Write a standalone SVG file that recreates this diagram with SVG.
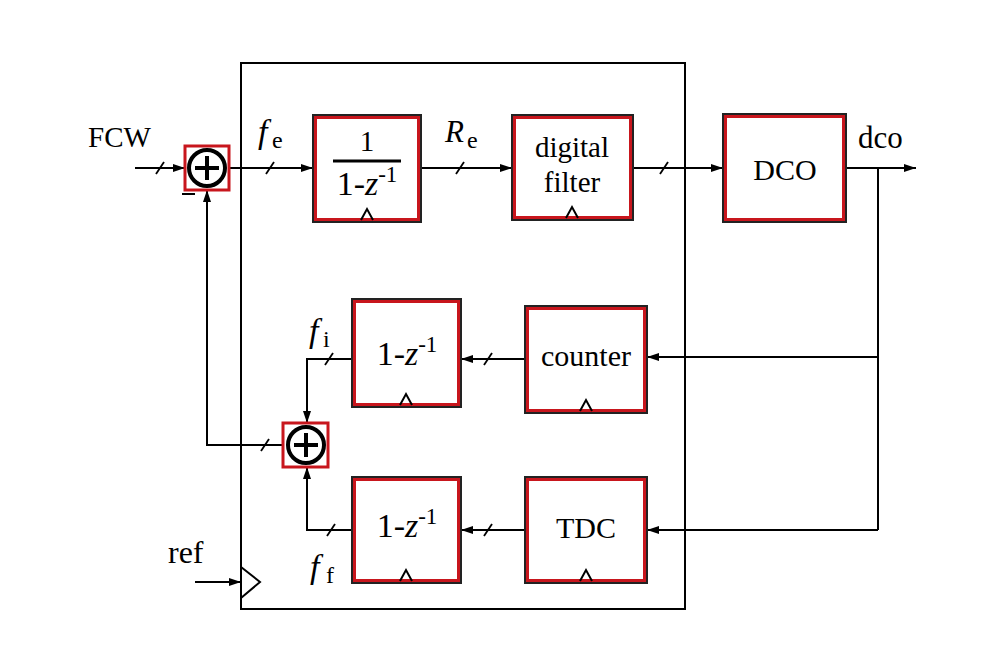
<svg xmlns="http://www.w3.org/2000/svg" width="988" height="662" viewBox="0 0 988 662">
<style>
text{font-family:"Liberation Serif","Times New Roman",Times,"DejaVu Serif",serif;fill:#000;}
.blk{fill:#fff;stroke:#222;stroke-width:2;}
.red{fill:none;stroke:#c8161d;stroke-width:3;}
.w{fill:none;stroke:#000;stroke-width:2;}
.sl{stroke:#000;stroke-width:1.8;}
.ck{fill:none;stroke:#000;stroke-width:2;}
</style>
<defs>
<marker id="ah" viewBox="0 0 12 8" refX="12" refY="4" markerWidth="12" markerHeight="8" markerUnits="userSpaceOnUse" orient="auto">
<path d="M0,0 L12,4 L0,8 Z" fill="#000"/>
</marker>
</defs>
<rect width="988" height="662" fill="#fff"/>

<!-- main clocked boundary -->
<g id="core">
<rect x="241" y="63" width="444" height="546" fill="none" stroke="#000" stroke-width="2"/>
<path d="M241,567 L260,582 L241,598" class="ck"/>
</g>

<!-- connectors -->
<g id="connectors">
<line x1="135" y1="168" x2="185" y2="168" class="w" marker-end="url(#ah)"/>
<line x1="229" y1="168" x2="313" y2="168" class="w" marker-end="url(#ah)"/>
<line x1="421" y1="168" x2="512" y2="168" class="w" marker-end="url(#ah)"/>
<line x1="633" y1="168" x2="723" y2="168" class="w" marker-end="url(#ah)"/>
<line x1="846" y1="168" x2="916" y2="168" class="w" marker-end="url(#ah)"/>
<path d="M878,168 V530" class="w"/>
<line x1="878" y1="357" x2="647" y2="357" class="w" marker-end="url(#ah)"/>
<line x1="878" y1="530" x2="647" y2="530" class="w" marker-end="url(#ah)"/>
<line x1="525" y1="359" x2="461" y2="359" class="w" marker-end="url(#ah)"/>
<line x1="525" y1="530" x2="461" y2="530" class="w" marker-end="url(#ah)"/>
<path d="M352,359 H307 V423" class="w" marker-end="url(#ah)"/>
<path d="M352,530 H307 V467" class="w" marker-end="url(#ah)"/>
<path d="M283,445 H207 V190" class="w" marker-end="url(#ah)"/>
<line x1="195" y1="582" x2="241" y2="582" class="w" marker-end="url(#ah)"/>
<!-- bus slashes -->
<line x1="156" y1="174" x2="164" y2="162" class="sl"/>
<line x1="266" y1="174" x2="274" y2="162" class="sl"/>
<line x1="456" y1="174" x2="464" y2="162" class="sl"/>
<line x1="660" y1="174" x2="668" y2="162" class="sl"/>
<line x1="484" y1="365" x2="492" y2="353" class="sl"/>
<line x1="325" y1="365" x2="333" y2="353" class="sl"/>
<line x1="484" y1="536" x2="492" y2="524" class="sl"/>
<line x1="327" y1="536" x2="335" y2="524" class="sl"/>
<line x1="261" y1="451" x2="269" y2="439" class="sl"/>
</g>

<!-- adder at input -->
<g id="sum1">
<rect x="185" y="146" width="44" height="44" class="red" stroke-width="2"/>
<circle cx="207" cy="168" r="18" fill="#fff" stroke="#000" stroke-width="4"/>
<path d="M195,168 H219 M207,156 V180" stroke="#000" stroke-width="4"/>
<line x1="182" y1="194" x2="195" y2="194" stroke="#000" stroke-width="2"/>
</g>

<!-- feedback adder -->
<g id="sum2">
<rect x="283" y="423" width="45" height="44" class="red" stroke-width="2"/>
<circle cx="306" cy="445" r="18" fill="#fff" stroke="#000" stroke-width="4"/>
<path d="M294,445 H318 M306,433 V457" stroke="#000" stroke-width="4"/>
</g>

<g id="accumulator">
<rect x="313" y="115" width="108" height="107" class="blk"/>
<rect x="315.5" y="117.5" width="103" height="102" class="red"/>
<text x="367" y="151" font-size="29" text-anchor="middle">1</text>
<line x1="333" y1="161" x2="401" y2="161" stroke="#000" stroke-width="3"/>
<text x="367" y="195" font-size="34" text-anchor="middle">1-<tspan font-style="italic">z</tspan><tspan font-size="23" dy="-13">-1</tspan></text>
<path d="M361,220 L367,209 L373,220" class="ck"/>
</g>

<g id="filter">
<rect x="512" y="115" width="121" height="105" class="blk"/>
<rect x="514.5" y="117.5" width="116" height="100" class="red"/>
<text x="572" y="157" font-size="29" text-anchor="middle">digital</text>
<text x="572" y="192" font-size="29" text-anchor="middle">filter</text>
<path d="M566,218 L572,207 L578,218" class="ck"/>
</g>

<g id="dco">
<rect x="723" y="114" width="123" height="108" class="blk"/>
<rect x="725.5" y="116.5" width="118" height="103" class="red"/>
<text x="785" y="180" font-size="30" text-anchor="middle">DCO</text>
</g>

<g id="diff1">
<rect x="352" y="299" width="109" height="108" class="blk"/>
<rect x="354.5" y="301.5" width="104" height="103" class="red"/>
<text x="407" y="365" font-size="34" text-anchor="middle">1-<tspan font-style="italic">z</tspan><tspan font-size="23" dy="-13">-1</tspan></text>
<path d="M400,405 L406,394 L412,405" class="ck"/>
</g>

<g id="counter">
<rect x="525" y="306" width="122" height="107" class="blk"/>
<rect x="527.5" y="308.5" width="117" height="102" class="red"/>
<text x="586" y="366" font-size="30" text-anchor="middle">counter</text>
<path d="M580,411 L586,400 L592,411" class="ck"/>
</g>

<g id="diff2">
<rect x="352" y="477" width="109" height="106" class="blk"/>
<rect x="354.5" y="479.5" width="104" height="101" class="red"/>
<text x="407" y="537" font-size="34" text-anchor="middle">1-<tspan font-style="italic">z</tspan><tspan font-size="23" dy="-13">-1</tspan></text>
<path d="M400,581 L406,570 L412,581" class="ck"/>
</g>

<g id="tdc">
<rect x="525" y="477" width="122" height="106" class="blk"/>
<rect x="527.5" y="479.5" width="117" height="101" class="red"/>
<text x="586" y="538" font-size="30" text-anchor="middle">TDC</text>
<path d="M580,581 L586,570 L592,581" class="ck"/>
</g>

<!-- signal labels -->
<g id="labels">
<text x="88" y="147" font-size="29">FCW</text>
<text x="258" y="143" font-size="34" font-style="italic">f</text>
<text x="272" y="148" font-size="24">e</text>
<text x="445" y="142" font-size="31" font-style="italic">R</text>
<text x="467" y="148" font-size="24">e</text>
<text x="858" y="148" font-size="31">dco</text>
<text x="309" y="342" font-size="34" font-style="italic">f</text>
<text x="323" y="347" font-size="24">i</text>
<text x="310" y="578" font-size="34" font-style="italic">f</text>
<text x="326" y="583" font-size="24">f</text>
<text x="168" y="563" font-size="32">ref</text>
</g>
</svg>
